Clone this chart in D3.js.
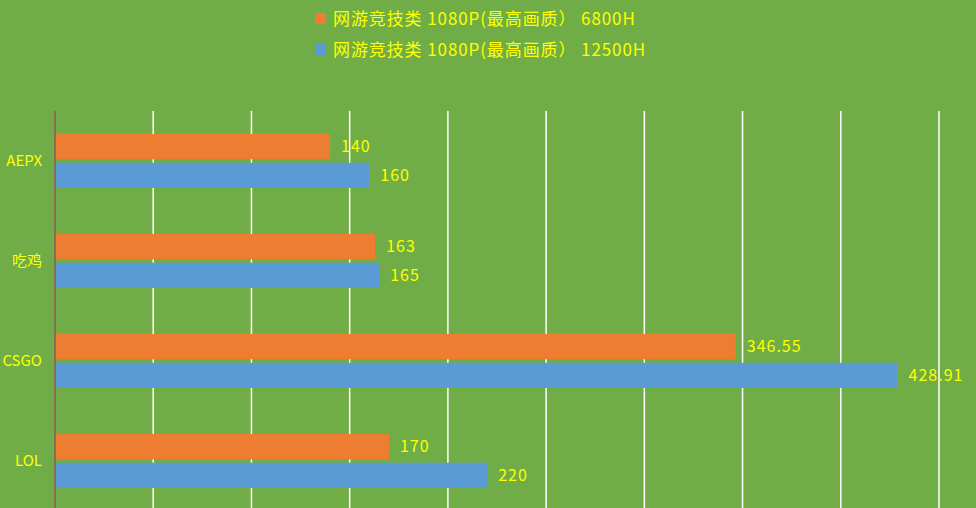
<!DOCTYPE html>
<html>
<head>
<meta charset="utf-8">
<title>网游竞技类 1080P</title>
<style type="text/css">
html, body {
	margin: 0;
	padding: 0;
	background-color: #70ad47;
}
svg text {
	font-family: "Noto Sans CJK SC", "Noto Sans", sans-serif;
	fill: #ffff00;
}
</style>
</head>
<body>

<div id="chart"></div>

<script src="https://cdn.jsdelivr.net/npm/d3@7"></script>
<script type="text/javascript">
	// data
	var categories = ['AEPX', '吃鸡', 'CSGO', 'LOL'];
	var seriesNames = ['网游竞技类 1080P(最高画质） 6800H', '网游竞技类 1080P(最高画质） 12500H'];
	var values6800H = [140, 163, 346.55, 170];
	var values12500H = [160, 165, 428.91, 220];
	var xTicks = [0, 50, 100, 150, 200, 250, 300, 350, 400, 450];

	var colors = ['#ed7d31', '#5b9bd5'];
	var series = [values6800H, values12500H];

	var width = 976, height = 508;

	var svg = d3.select('#chart').append('svg')
		.attr('width', width)
		.attr('height', height);

	svg.append('rect')
		.attr('width', width)
		.attr('height', height)
		.attr('fill', '#70ad47');

	var x = d3.scaleLinear().domain([0, 450]).range([55, 939]);
	var y = d3.scaleBand().domain(categories).range([111, 511]);
	var inner = d3.scaleBand().domain([0, 1]).range([23, 77]).paddingInner(0.12);

	// vertical grid lines
	svg.append('g').selectAll('line.grid')
		.data(xTicks.slice(1))
		.enter()
		.append('line')
		.attr('class', 'grid')
		.attr('x1', function(d) { return x(d); })
		.attr('x2', function(d) { return x(d); })
		.attr('y1', 111)
		.attr('y2', height)
		.attr('stroke', '#ffffff')
		.attr('stroke-width', 1.5);

	// bars + value labels
	series.forEach(function(vals, si) {
		var g = svg.append('g');

		g.selectAll('rect')
			.data(vals)
			.enter()
			.append('rect')
			.attr('x', x(0))
			.attr('y', function(d, i) { return y(categories[i]) + inner(si); })
			.attr('width', function(d) { return x(d) - x(0); })
			.attr('height', inner.bandwidth())
			.attr('fill', colors[si]);

		g.selectAll('text')
			.data(vals)
			.enter()
			.append('text')
			.attr('x', function(d) { return x(d) + 11; })
			.attr('y', function(d, i) { return y(categories[i]) + inner(si) + inner.bandwidth() / 2; })
			.attr('dy', '0.35em')
			.attr('font-size', 16)
			.attr('letter-spacing', 1)
			.text(function(d) { return d; });
	});

	// category axis line
	svg.append('line')
		.attr('x1', x(0))
		.attr('x2', x(0))
		.attr('y1', 111)
		.attr('y2', height)
		.attr('stroke', '#8c5a5a')
		.attr('stroke-width', 1.5);

	svg.append('g').selectAll('text.cat')
		.data(categories)
		.enter()
		.append('text')
		.attr('class', 'cat')
		.attr('x', 42)
		.attr('y', function(d) { return y(d) + y.bandwidth() / 2; })
		.attr('dy', '0.35em')
		.attr('text-anchor', 'end')
		.attr('font-size', 15)
		.text(function(d) { return d; });

	// legend
	var legend = svg.append('g').selectAll('g.legend-item')
		.data(seriesNames)
		.enter()
		.append('g')
		.attr('class', 'legend-item')
		.attr('transform', function(d, i) { return 'translate(315,' + (13 + i * 31) + ')'; });

	legend.append('rect')
		.attr('width', 11)
		.attr('height', 11)
		.attr('fill', function(d, i) { return colors[i]; });

	legend.append('text')
		.attr('x', 18)
		.attr('y', 6.5)
		.attr('dy', '0.35em')
		.attr('font-size', 17)
		.attr('letter-spacing', 0.9)
		.text(function(d) { return d; });
</script>
</body>
</html>
